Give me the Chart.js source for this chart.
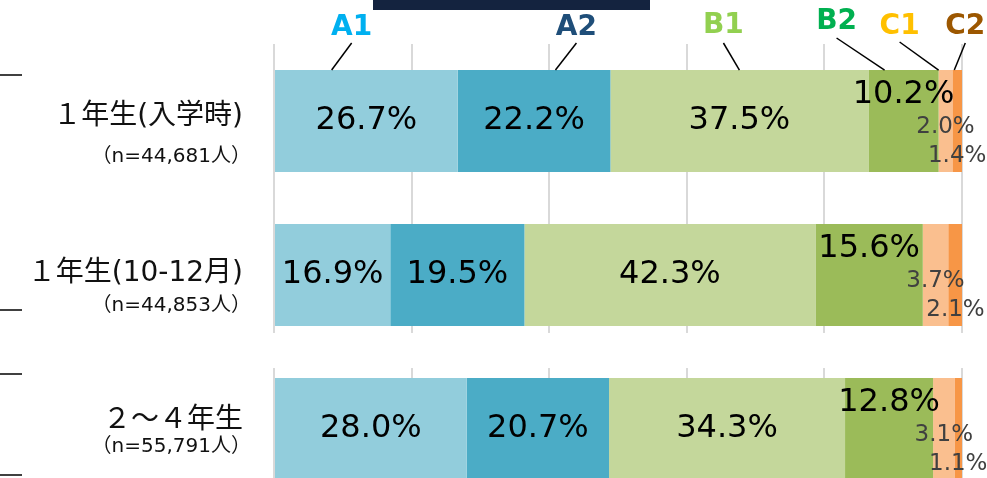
<!DOCTYPE html>
<html lang="ja">
<head>
<meta charset="utf-8">
<script src="https://cdn.jsdelivr.net/npm/chart.js@4.4.1/dist/chart.umd.min.js"></script>
<style>
  html, body { margin: 0; padding: 0; background: #fff; }
  #wrap { position: relative; width: 987px; height: 478px; overflow: hidden; }
  #levelChart { position: absolute; left: 0; top: 0; }
  #titleBar { position: absolute; left: 373px; top: 0; width: 277px; height: 10px; background: #14233f; }
</style>
</head>
<body>
<div id="wrap">
  <canvas id="levelChart" width="987" height="520" style="width:987px;height:520px"></canvas>
  <div id="titleBar"></div>
</div>
<script>
`use strict`

// 学年
const grades = ['１年生(入学時)', '１年生(10-12月)', '２～４年生'];
const counts = ['（n=44,681人）', '（n=44,853人）', '（n=55,791人）'];

// レベル別の割合 (%)
const levels = ['A1', 'A2', 'B1', 'B2', 'C1', 'C2'];
const a1 = [26.7, 16.9, 28.0];
const a2 = [22.2, 19.5, 20.7];
const b1 = [37.5, 42.3, 34.3];
const b2 = [10.2, 15.6, 12.8];
const c1 = [2.0, 3.7, 3.1];
const c2 = [1.4, 2.1, 1.1];

const barColors = ['#92cddc', '#4bacc6', '#c4d79b', '#9bbb59', '#fabf8f', '#f79646'];
const tagColors = ['#00b0f0', '#1f4e79', '#92d050', '#00b050', '#ffc000', '#9c5700'];

// 見出し(A1〜C2)の引き出し線: 棒上の位置(割合), 文字のずれ, 文字の高さ, 線の上端
const tagAnchor = [0.31, 0.64, 0.5, 0.23, 0.0, 0.2];
const tagShift = [20, 21, -16, -48, -39, 11];
const tagY = [28, 28, 26, 22, 27, 27];
const tagLineTop = [43, 43, 43, 38, 42, 43];

// 学年ラベルの上下位置 (棒の中心から)
const gradeOffset = [-4, -1, -8];
const countOffset = [36, 31, 18];

const seriesValues = [a1, a2, b1, b2, c1, c2];

function barBox(bar) {
  const p = bar.getProps(['x', 'y', 'base', 'height'], true);
  return {
    left: Math.min(p.x, p.base),
    right: Math.max(p.x, p.base),
    top: p.y - p.height / 2,
    bottom: p.y + p.height / 2,
    y: p.y
  };
}

const levelPlugin = {
  id: 'levelPlugin',
  beforeDatasetsDraw(chart) {
    // 2行目と3行目の間は目盛線を切る
    const ctx = chart.ctx;
    const area = chart.chartArea;
    const r2 = barBox(chart.getDatasetMeta(0).data[1]);
    const r3 = barBox(chart.getDatasetMeta(0).data[2]);
    ctx.save();
    ctx.fillStyle = '#fff';
    ctx.fillRect(area.left - 3, r2.bottom + 7, area.right - area.left + 6, r3.top - r2.bottom - 17);
    ctx.restore();
  },
  afterDatasetsDraw(chart) {
    const ctx = chart.ctx;
    ctx.save();
    ctx.textAlign = 'center';
    ctx.textBaseline = 'middle';
    seriesValues.forEach((values, i) => {
      const meta = chart.getDatasetMeta(i);
      values.forEach((value, j) => {
        const box = barBox(meta.data[j]);
        const cx = (box.left + box.right) / 2;
        const text = value.toFixed(1) + '%';
        if (i < 3) {
          ctx.font = '32px "DejaVu Sans"';
          ctx.fillStyle = '#000';
          ctx.fillText(text, cx, box.y);
        } else if (i === 3) {
          ctx.font = '32px "DejaVu Sans"';
          ctx.fillStyle = '#000';
          ctx.fillText(text, cx, box.top + 25);
        } else {
          ctx.font = '23px "DejaVu Sans"';
          ctx.fillStyle = '#404040';
          ctx.fillText(text, cx, box.top + (i === 4 ? 57 : 86));
        }
      });
    });
    ctx.restore();
  },
  afterDraw(chart) {
    const ctx = chart.ctx;
    ctx.save();

    // 見出しと引き出し線
    levels.forEach((name, i) => {
      const box = barBox(chart.getDatasetMeta(i).data[0]);
      const x = box.left + (box.right - box.left) * tagAnchor[i];
      ctx.strokeStyle = '#000';
      ctx.lineWidth = 1.5;
      ctx.beginPath();
      ctx.moveTo(x + tagShift[i], tagLineTop[i]);
      ctx.lineTo(x, box.top);
      ctx.stroke();
      ctx.font = 'bold 28px "DejaVu Sans"';
      ctx.fillStyle = tagColors[i];
      ctx.textAlign = 'center';
      ctx.textBaseline = 'middle';
      ctx.fillText(name, x + tagShift[i], tagY[i]);
    });

    // 学年と人数
    ctx.textAlign = 'right';
    ctx.fillStyle = '#111';
    grades.forEach((grade, j) => {
      const box = barBox(chart.getDatasetMeta(0).data[j]);
      ctx.font = '28px "DejaVu Sans", "Noto Sans CJK JP"';
      ctx.fillText(grade, 243, box.y + gradeOffset[j]);
      ctx.font = '20px "DejaVu Sans", "Noto Sans CJK JP"';
      ctx.fillText(counts[j], 251, box.y + countOffset[j]);
    });

    // 左側の括弧の端
    ctx.strokeStyle = '#000';
    ctx.lineWidth = 1.5;
    [75, 310, 374, 475].forEach(y => {
      ctx.beginPath();
      ctx.moveTo(0, y);
      ctx.lineTo(22, y);
      ctx.stroke();
    });
    ctx.restore();
  }
};

const ctx = document.getElementById('levelChart');
const myChart = new Chart(ctx, {
  type: 'bar',
  data: {
    labels: grades,
    datasets: levels.map((name, i) => ({
      label: name,
      data: seriesValues[i],
      backgroundColor: barColors[i],
      borderWidth: 0,
      barPercentage: 0.662,
      categoryPercentage: 1.0
    }))
  },
  options: {
    indexAxis: 'y',
    responsive: false,
    animation: false,
    layout: {
      padding: { left: 274, right: 25, top: 44, bottom: 14 }
    },
    scales: {
      x: {
        stacked: true,
        min: 0,
        max: 100,
        ticks: { display: false, stepSize: 20 },
        grid: { color: '#d9d9d9', lineWidth: 2, drawTicks: false },
        border: { display: false }
      },
      y: {
        stacked: true,
        display: false
      }
    },
    plugins: {
      legend: { display: false },
      tooltip: { enabled: false }
    }
  },
  plugins: [levelPlugin]
});
</script>
</body>
</html>
